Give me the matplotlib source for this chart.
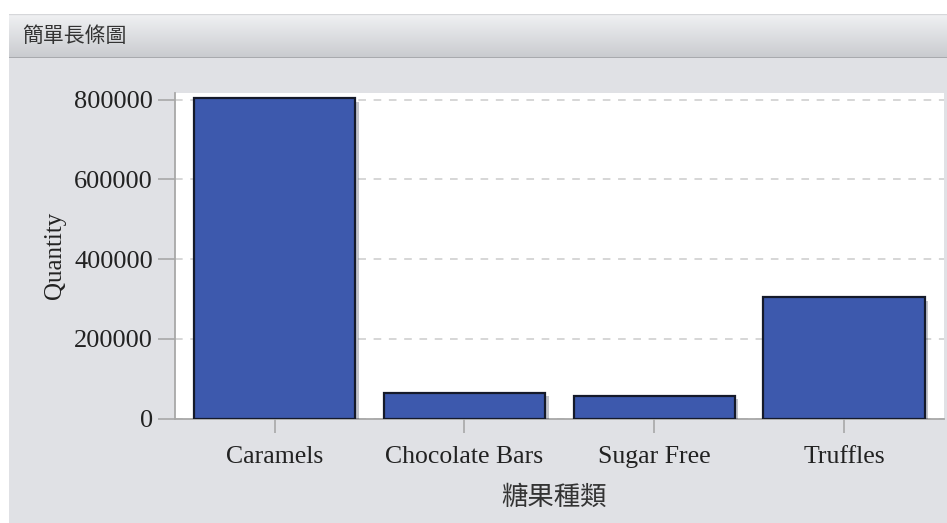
import numpy as np
import matplotlib.pyplot as plt
import matplotlib.patheffects as pe
from matplotlib.patches import Rectangle

categorias = ['Caramels', 'Chocolate Bars', 'Sugar Free', 'Truffles']
quantidade = [804000, 65000, 56500, 304500]
y_ticks = [0, 200000, 400000, 600000, 800000]

titulo = '簡單長條圖'
x_label = '糖果種類'
y_label = 'Quantity'

fonte_latina = 'Liberation Serif'
fonte_cjk = ['Noto Sans CJK TC', 'DejaVu Sans']

W, H = 947, 523
fig = plt.figure(figsize=(W / 100, H / 100), dpi=100)
fig.patch.set_facecolor('white')

# fundo cinza do painel e barra de titulo com gradiente
fig.patches.append(Rectangle((9 / W, 0), 1, 1 - 14 / H, transform=fig.transFigure,
                             facecolor='#e0e1e5', edgecolor='none', zorder=-10))
ax_head = fig.add_axes([9 / W, 1 - 58 / H, 1 - 9 / W, 44 / H])
grad = np.linspace(0, 1, 50).reshape(-1, 1)
cor_topo = np.array([0xf0, 0xf1, 0xf3]) / 255
cor_base = np.array([0xc9, 0xcb, 0xcf]) / 255
img = cor_topo + (cor_base - cor_topo) * grad[:, :, None]
ax_head.imshow(img, aspect='auto', extent=[0, 1, 0, 1])
ax_head.axhline(0.01, color='#a4a6aa', linewidth=2)
ax_head.axhline(0.99, color='#d6d7da', linewidth=1)
ax_head.set_xlim(0, 1)
ax_head.set_ylim(0, 1)
ax_head.axis('off')
ax_head.text(13 / (W - 9), 0.5, titulo, family=fonte_cjk, fontsize=15,
             color='#333333', va='center', ha='left')

ax = fig.add_axes([175 / W, 1 - 418.5 / H, (944 - 175) / W, (418.5 - 93) / H])
ax.set_facecolor('white')
x = np.arange(len(categorias))
barras = ax.bar(x, quantidade, width=0.85, color='#3d59ad', edgecolor='#151a2a',
                linewidth=1.6, zorder=3)
for b in barras:
    b.set_path_effects([pe.SimplePatchShadow(offset=(2.5, -2.5), alpha=0.25), pe.Normal()])

ax.set_xlim(-0.525, 3.526)
ax.set_ylim(0, 817000)
ax.set_yticks(y_ticks)
ax.set_yticklabels([str(v) for v in y_ticks], family=fonte_latina, fontsize=19, color='#222222')
ax.set_xticks(x)
ax.set_xticklabels(categorias, family=fonte_latina, fontsize=18.5, color='#222222')
ax.yaxis.grid(True, linestyle=(0, (5, 5)), color='#cccccc', linewidth=1.1, zorder=1)
ax.tick_params(axis='y', length=12, width=1.2, color='#a8a8a8', pad=4)
ax.tick_params(axis='x', length=10, width=1.2, color='#a8a8a8', pad=10)
for lado in ['top', 'right']:
    ax.spines[lado].set_visible(False)
for lado in ['left', 'bottom']:
    ax.spines[lado].set_color('#a8a8a8')
    ax.spines[lado].set_linewidth(1.3)

ax.set_ylabel(y_label, family=fonte_latina, fontsize=18, color='#222222')
ax.yaxis.set_label_coords(-109 / (944 - 175), 0.5)
fig.text(554 / W, 1 - 497 / H, x_label, family=fonte_cjk, fontsize=19,
         color='#333333', ha='center', va='center')

plt.savefig('out.png', dpi=100)
